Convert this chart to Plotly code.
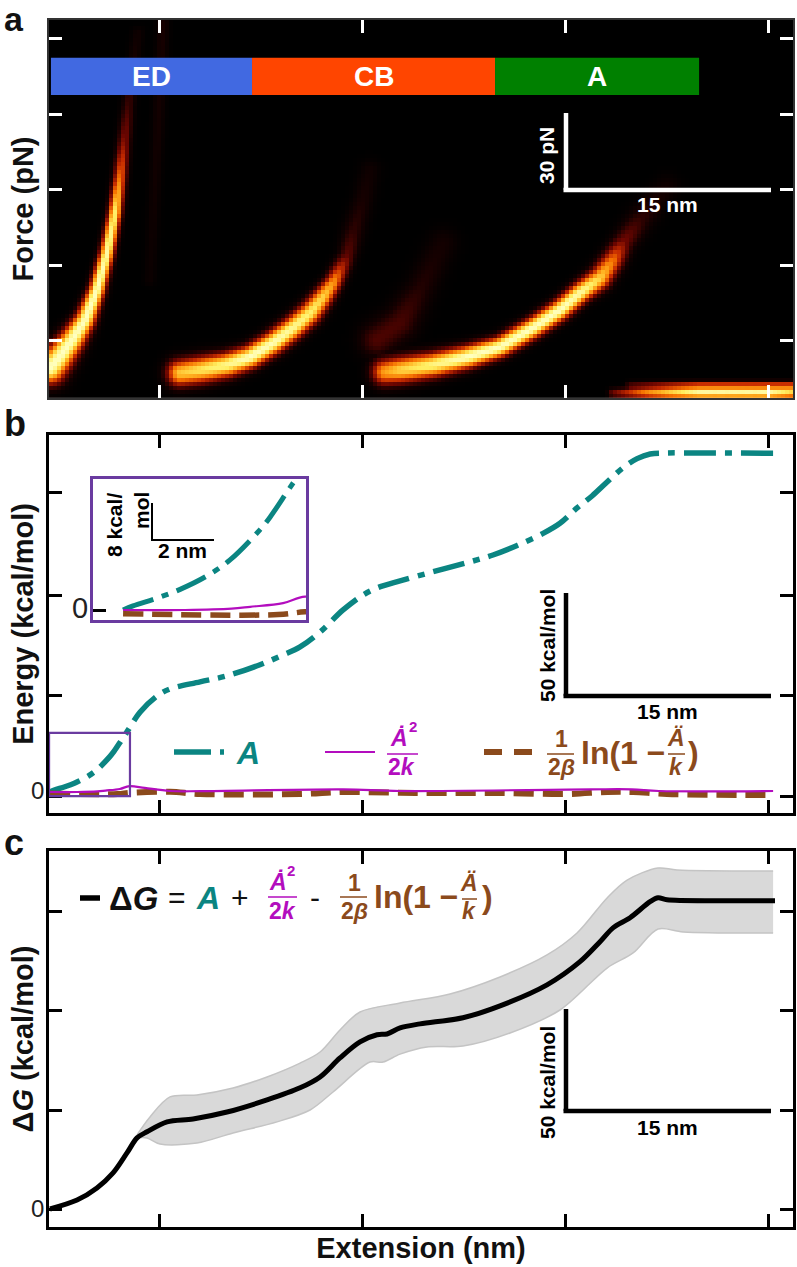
import numpy as np
import plotly.graph_objects as go

W, H = 797, 1267
FONT = "Liberation Sans"
TEAL, MAG, BROWN, PURPLE = "#0B8582", "#B30DBE", "#8B4A1C", "#6A3BA0"

# ---- shared x axis (nm)
x_ticks = [8.06, 23.06, 38.06, 53.07]
x_range = [-0.074, 54.91]

# ---- panel a: force ridges (nm, pN, peak intensity, width in px)
force_ticks = [20, 50, 80, 110, 140]
force_range = [-2.66, 147.5]
ed_x = [0, .52, 1.63, 2.59, 3.47, 4.21, 4.8, 5.17, 5.47, 5.76, 6.13, 6.5]
ed_f = [9.3, 12.4, 20.4, 28.3, 40.3, 55, 70.9, 85.2, 98.7, 113, 128.9, 142.4]
ed_i = [1, 1, 1, 1, 1, .95, .85, .5, .25, .12, .06, .04]
ed_w = [7, 6.5, 5.5, 4.5, 3.6, 3.2, 3, 3, 3, 3, 3, 3]
cb_x = [9.61, 11.09, 13.08, 14.78, 16.48, 17.96, 19.22, 20.18, 20.92, 21.43, 21.95, 22.39, 23.13, 23.65]
cb_f = [7.3, 8.5, 10.5, 13.6, 19.2, 25.2, 31.1, 37.5, 43, 48.2, 53.4, 62.9, 76, 88]
cb_i = [.72, .8, .9, 1, .98, .92, .85, .75, .6, .38, .18, .1, .06, .04]
cb_w = [6, 6, 5.5, 5, 5, 5, 5, 4.5, 4, 4, 4, 5, 5, 5]
a_x = [24.76, 25.87, 28.31, 30.82, 33.26, 35.7, 37.69, 39.17, 40.65, 41.61, 42.35, 43.61, 45.6]
a_f = [7.7, 8.5, 10.5, 13.6, 17.6, 25.2, 32.3, 39.1, 45, 52.2, 58.9, 68.1, 81.2]
a_i = [.62, .75, .88, 1, 1, 1, 1, .95, .75, .5, .22, .1, .04]
a_w = [6, 6, 5.5, 5, 4.5, 4.5, 4.5, 4.5, 5, 5, 5, 6, 6]
faint1_x = [24.17, 25.87, 27.35, 29.05]
faint1_f = [20.4, 27.1, 40.3, 58.9]
faint1_i = [.15, .14, .08, .05]
faint1_w = [8, 8, 7, 7]
faint2_x = [7.39, 7.98, 8.35]
faint2_f = [44.2, 103.8, 146.8]
faint2_i = [.03, .05, .06]
faint2_w = [3, 3, 3]
low_x = [41.61, 44.35, 48.04, 53.2, 54.9]
low_f = [-.7, -.7, -.7, -.7, -.7]
low_i = [.2, .62, 1, 1, .8]
low_w = [2.2, 2.2, 2.2, 2.2, 2.2]
low2_x = [42.87, 48, 54.9]
low2_f = [1.7, 1.7, 1.7]
low2_i = [.2, .6, .6]
low2_w = [2.2, 2.2, 2.2]
ridges = [(ed_x, ed_f, ed_i, ed_w), (cb_x, cb_f, cb_i, cb_w), (a_x, a_f, a_i, a_w),
          (faint1_x, faint1_f, faint1_i, faint1_w), (faint2_x, faint2_f, faint2_i, faint2_w),
          (low_x, low_f, low_i, low_w), (low2_x, low2_f, low2_i, low2_w)]

band_edges = [0.07, 14.93, 32.89, 47.97]
band_names = ["ED", "CB", "A"]
band_colors = ["#4169E1", "#FF4500", "#008000"]
band_f = [117.7, 132.5]

# ---- panel b (kcal/mol)
energy_ticks = [-2, 48, 97.5, 148]
energy_range = [-10.4, 176.7]
A_x = [0, .32, 1.1, 1.84, 2.7, 3.45, 4.42, 4.74, 5.3, 5.55, 5.76, 6.65, 7.91, 8.87, 11.09, 13.08, 15.52,
       17.22, 18.48, 19.96, 21.66, 23.13, 24.17, 25.87, 28.31, 30.82, 32.74, 34.52, 36.44, 37.69,
       38.95, 40.06, 41.17, 42.35, 43.39, 44.35, 45.6, 48.04, 53.44]
A_y = [0, .9, 2.6, 4.5, 7.4, 10.9, 17.5, 20.2, 25.8, 28.3, 30.5, 39.5, 47.5, 51, 54.5, 57.5, 63,
       67.8, 71.8, 79.2, 90.1, 97.5, 101, 104.5, 109, 113.5, 117.3, 122, 128, 133,
       140.6, 146.5, 153.4, 160.5, 165, 167.3, 167.8, 167.8, 167.7]
K_x = [0, 2, 3.5, 4.1, 5.16, 5.87, 7.0, 8.87, 11.09, 21.66, 25.87, 40, 43, 45, 53.44]
K_y = [0, 0, .3, .7, 1.5, 2.9, 2.0, .5, .4, 1.3, .5, 1.3, 1.3, .5, .5]
L_x = [0, 5.0, 5.87, 8.87, 11.09, 18.48, 21.66, 25.87, 28.3, 33.3, 38.2, 41.2, 43.1, 45.6, 53.44]
L_y = [-.8, -1, -.4, .1, -1, -1, 0, -.4, -.5, -.5, -1, 0, 0, -1, -1.5]
zoom_box_x = [-0.07, 5.91]
zoom_box_y = [-2, 29.3]
inset_x_range = [-0.97, 5.9]
inset_y_range = [-2.17, 28.5]

# ---- panel c (kcal/mol)
dg_ticks = [0, 50, 100, 150]
dg_range = [-9.09, 180.8]
G_x = [0, 2, 3.47, 4.66, 5.69, 6.43, 7.17, 8.65, 10.57, 13.08, 16.04, 18.48, 19.96, 21.43, 22.91, 24.17,
       24.91, 25.87, 27.35, 30.52, 33.26, 36.73, 39.17, 40.65, 41.61, 42.87, 44.35, 44.94, 45.6, 49.3, 53.58]
G_y = [0, 4.5, 10.6, 18.2, 28.3, 35.9, 39, 44, 45.5, 49, 55.1, 61.2, 66.7, 76.3, 84.4, 88,
       88.4, 91.5, 93.5, 96.6, 102.6, 113.2, 124.9, 135, 142, 147.1, 155.2, 157.2, 156.2, 155.7, 155.7]
up_x = [6.43, 7.39, 8.87, 10.86, 13.53, 16.04, 18.48, 19.96, 21.43, 22.91, 25.87, 29.56, 33.26, 36.73,
        38.95, 41.17, 42.65, 44.94, 46.34, 53.44]
up_y = [37.4, 46.5, 56.6, 57.6, 61.1, 66.7, 73.7, 79.3, 90.4, 99.5, 104, 108.6, 117.2, 128.3,
        139.4, 157.1, 166.1, 172.2, 171.2, 170.7]
lo_x = [6.43, 7.17, 8.13, 10.86, 13.53, 16.78, 19.22, 20.92, 23.65, 24.61, 25.87, 27.86, 30.52, 34,
        37.69, 41.17, 43.09, 44.94, 46.79, 53.44]
lo_y = [35.9, 35.9, 32.8, 33.3, 38.4, 44, 50, 59.1, 74.2, 74.2, 78.2, 81.8, 82.3, 88.9,
        100.5, 121.7, 129.3, 141.4, 139.9, 139.4]


def X(p):
    return p / W


def Y(p):
    return 1 - p / H


def dom_x(a, b):
    return [a / W, b / W]


def dom_y(top, bottom):
    return [1 - bottom / H, 1 - top / H]


# ---- density image built along the ridges
PX_NM = 13.53
PX_PN = 1 / 0.3974
cell = 4.0
WIDTH_GAIN = 1.4
gx = np.arange(x_range[0], x_range[1], cell / PX_NM) + cell / PX_NM / 2
gy = np.arange(force_range[0], force_range[1], cell / PX_PN) + cell / PX_PN / 2
GX, GY = np.meshgrid(gx, gy)
z = np.zeros_like(GX)
for rx, rf, ri, rw in ridges:
    t = np.linspace(0, len(rx) - 1, 260)
    k = np.arange(len(rx))
    px = np.interp(t, k, rx)[None, None, :]
    pf = np.interp(t, k, rf)[None, None, :]
    pi_ = np.interp(t, k, ri)[None, None, :]
    pw = np.interp(t, k, rw)[None, None, :] * WIDTH_GAIN
    d2 = ((GX[..., None] - px) * PX_NM) ** 2 + ((GY[..., None] - pf) * PX_PN) ** 2
    z = np.maximum(z, (pi_ * np.exp(-d2 / (2 * pw ** 2))).max(axis=2))

fig = go.Figure()
fig.add_trace(go.Heatmap(x=gx, y=gy, z=z, zmin=0, zmax=1, showscale=False, hoverinfo="skip",
                         xaxis="x", yaxis="y",
                         colorscale=[[0, "#000000"], [.06, "#160000"], [.2, "#6a0500"], [.36, "#c42a00"],
                                     [.5, "#f57000"], [.66, "#ffb020"], [.82, "#ffee60"], [1, "#ffffc0"]]))

DASHDOT = "32px,9px,7px,9px"
DASH = "20px,9px"
for ax in [("x2", "y2", 5.5), ("x4", "y4", 5)]:
    xa, ya, w = ax
    fig.add_trace(go.Scatter(x=A_x, y=A_y, mode="lines", xaxis=xa, yaxis=ya, hoverinfo="skip",
                             line=dict(color=TEAL, width=w, dash=DASHDOT, shape="spline", smoothing=1.0)))
    fig.add_trace(go.Scatter(x=L_x, y=L_y, mode="lines", xaxis=xa, yaxis=ya, hoverinfo="skip",
                             line=dict(color=BROWN, width=w + .5, dash=DASH, shape="spline", smoothing=1.0)))
    fig.add_trace(go.Scatter(x=K_x, y=K_y, mode="lines", xaxis=xa, yaxis=ya, hoverinfo="skip",
                             line=dict(color=MAG, width=2.2, shape="spline", smoothing=1.0)))

fig.add_trace(go.Scatter(x=up_x, y=up_y, mode="lines", xaxis="x3", yaxis="y3", hoverinfo="skip",
                         line=dict(color="#C4C4C4", width=1.5, shape="spline", smoothing=.9)))
fig.add_trace(go.Scatter(x=lo_x, y=lo_y, mode="lines", xaxis="x3", yaxis="y3", hoverinfo="skip", fill="tonexty",
                         fillcolor="#D9D9D9", line=dict(color="#C4C4C4", width=1.5, shape="spline", smoothing=.9)))
fig.add_trace(go.Scatter(x=G_x, y=G_y, mode="lines", xaxis="x3", yaxis="y3", hoverinfo="skip",
                         line=dict(color="black", width=5, shape="spline", smoothing=.9)))


def x_axis(dom, anchor, col, lw, title=None):
    d = dict(domain=dom, anchor=anchor, range=x_range, tickmode="array", tickvals=x_ticks, ticktext=[""] * 4,
             ticks="inside", ticklen=13, tickwidth=3, tickcolor=col, showline=True, mirror="allticks",
             linecolor="#333333" if col == "white" else "black", linewidth=lw, showgrid=False, zeroline=False)
    if title:
        d["title"] = dict(text=title, font=dict(family=FONT, size=29, color="#111111"), standoff=7)
    return d


def y_axis(dom, anchor, rng, ticks, text, col, lw, title):
    return dict(domain=dom, anchor=anchor, range=rng, tickmode="array", tickvals=ticks, ticktext=text,
                ticks="inside", ticklen=13, tickwidth=3, tickcolor=col, showline=True, mirror="allticks",
                linecolor="#333333" if col == "white" else "black", linewidth=lw, showgrid=False, zeroline=False,
                tickfont=dict(family=FONT, size=24, color="#222222"),
                title=dict(text=title, font=dict(family=FONT, size=29, color="#111111"), standoff=0))


layout = dict(
    width=W, height=H, margin=dict(l=0, r=0, t=0, b=0), autosize=False, showlegend=False,
    paper_bgcolor="white", plot_bgcolor="white",
    xaxis=x_axis(dom_x(49, 793), "y", "white", 1.5),
    yaxis=y_axis(dom_y(20, 398), "x", force_range, force_ticks, [""] * 5, "white", 1.5, "<b>Force (pN)</b>"),
    xaxis2=x_axis(dom_x(49, 793), "y2", "black", 2.5),
    yaxis2=y_axis(dom_y(435, 813), "x2", energy_range, energy_ticks, [""] * 4, "black", 2.5,
                  "<b>Energy (kcal/mol)</b>"),
    xaxis3=x_axis(dom_x(49, 793), "y3", "black", 2.5, "<b>Extension (nm)</b>"),
    yaxis3=y_axis(dom_y(851, 1227), "x3", dg_range, dg_ticks, ["", "", "", ""], "black", 2.5,
                  "<b>Δ<i>G</i> (kcal/mol)</b>"),
    xaxis4=dict(domain=dom_x(93, 306), anchor="y4", range=inset_x_range, showticklabels=False, ticks="",
                showline=True, mirror=True, linecolor=PURPLE, linewidth=2.5, showgrid=False, zeroline=False),
    yaxis4=dict(domain=dom_y(479, 620), anchor="x4", range=inset_y_range, tickmode="array", tickvals=[0],
                ticktext=[""], ticks="inside", ticklen=13, tickwidth=2.5, tickcolor="black", showline=True,
                mirror=True, linecolor=PURPLE, linewidth=2.5, showgrid=False, zeroline=False),
)

shapes, notes = [], []


def T(text, x, y, size=21, color="black", angle=0, anchor="center"):
    notes.append(dict(text=text, x=X(x), y=Y(y), xref="paper", yref="paper", showarrow=False, textangle=angle,
                      xanchor=anchor, yanchor="middle", font=dict(family=FONT, size=size, color=color)))


def L(x0, y0, x1, y1, color="black", width=4.5, dash=None):
    shapes.append(dict(type="line", xref="paper", yref="paper", x0=X(x0), y0=Y(y0), x1=X(x1), y1=Y(y1),
                       line=dict(color=color, width=width, dash=dash or "solid")))


# bands
for i, name in enumerate(band_names):
    shapes.append(dict(type="rect", xref="x", yref="y", x0=band_edges[i], x1=band_edges[i + 1],
                       y0=band_f[0], y1=band_f[1], fillcolor=band_colors[i], line=dict(width=0)))
    notes.append(dict(text=f"<b>{name}</b>", x=(band_edges[i] + band_edges[i + 1]) / 2, y=sum(band_f) / 2,
                      xref="x", yref="y", showarrow=False, font=dict(family=FONT, size=28, color="white")))

# zoom box in panel b
shapes.append(dict(type="rect", xref="x2", yref="y2", x0=zoom_box_x[0], x1=zoom_box_x[1], y0=zoom_box_y[0],
                   y1=zoom_box_y[1], line=dict(color=PURPLE, width=2.2)))

# panel letters
T("<b>a</b>", 2, 19, 34, "#111111", anchor="left")
T("<b>b</b>", 2, 424, 36, "#111111", anchor="left")
T("<b>c</b>", 2, 842, 36, "#111111", anchor="left")

# scale bars
for top, bottom, col, lab, label_y, nm_y in [
    (113, 190, "white", "<b>30 pN</b>", 156, 205),
    (593, 696, "black", "<b>50 kcal/mol</b>", 646, 712),
    (1009, 1111, "black", "<b>50 kcal/mol</b>", 1083, 1127),
]:
    L(566, top, 566, bottom, col)
    L(563.5, bottom, 771, bottom, col)
    T(lab, 547, label_y, 21, col, angle=-90)
    T("<b>15 nm</b>", 667, nm_y, 21, col)

# inset scale bar and zeros
L(152, 503, 152, 540, "black", 2)
L(151, 540, 214, 540, "black", 2)
T("<b>2 nm</b>", 182, 550, 21)
T("<b>8 kcal/</b>", 115, 525, 21, angle=-90)
T("<b>mol</b>", 142, 511, 21, angle=-90)
T("0", 80, 608, 29, "#222222")
T("0", 37, 790, 24, "#222222")
T("0", 37, 1208, 24, "#222222")

# panel b key
L(174, 752, 224, 752, TEAL, 5.5, "37px,9px,6px,9px")
T("<b><i>A</i></b>", 248, 753, 32, TEAL)
L(325, 752, 375, 752, MAG, 2.2)
T("<b><i>Ȧ</i></b>", 399.5, 738, 23, MAG)
T("<b>2</b>", 413, 727, 15, MAG)
L(387, 754, 418, 754, MAG, 1.5)
T("<b>2<i>k</i></b>", 402, 767, 23, MAG)
L(484, 752, 534, 752, BROWN, 6, "18px,12px")
T("<b>1</b>", 561, 739, 23, BROWN)
L(547, 754, 574, 754, BROWN, 1.5)
T("<b>2<i>β</i></b>", 561, 767, 23, BROWN)
T("<b>ln(1 −</b>", 579, 753, 32, BROWN, anchor="left")
T("<b><i>Ä</i></b>", 676, 738, 23, BROWN)
L(668, 754, 685, 754, BROWN, 1.5)
T("<b><i>k</i></b>", 676, 767, 23, BROWN)
T("<b>)</b>", 693, 753, 32, BROWN)

# panel c formula
L(80, 898, 100, 898, "black", 5.5)
T("<b>Δ<i>G</i></b>", 133, 898, 33, "#111111")
T("=", 177, 897, 30, "#111111")
T("<b><i>A</i></b>", 208, 898, 32, TEAL)
T("+", 240, 897, 30, "#111111")
T("<b><i>Ȧ</i></b>", 278, 882, 23, MAG)
T("<b>2</b>", 291, 870, 15, MAG)
L(268, 897, 297, 897, MAG, 1.5)
T("<b>2<i>k</i></b>", 282, 911, 23, MAG)
T("-", 315, 897, 30, "#111111")
T("<b>1</b>", 354, 883, 23, BROWN)
L(340, 897, 367, 897, BROWN, 1.5)
T("<b>2<i>β</i></b>", 354, 911, 23, BROWN)
T("<b>ln(1 −</b>", 372, 897, 32, BROWN, anchor="left")
T("<b><i>Ä</i></b>", 469, 883, 23, BROWN)
L(462, 899, 477, 899, BROWN, 1.5)
T("<b><i>k</i></b>", 469, 911, 23, BROWN)
T("<b>)</b>", 487, 897, 32, BROWN)

layout["shapes"] = shapes
layout["annotations"] = notes
fig.update_layout(**layout)
fig.write_html("out.html", config=dict(displayModeBar=False),
               post_script="document.body.style.margin='0';")
